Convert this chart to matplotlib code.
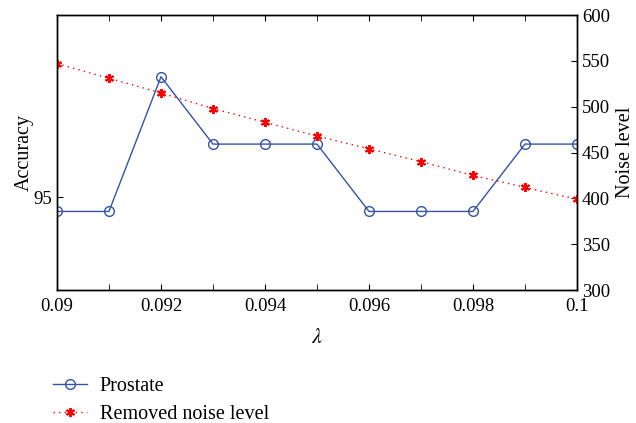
import matplotlib.pyplot as plt
from matplotlib.ticker import MultipleLocator

# data
lam = [0.090, 0.091, 0.092, 0.093, 0.094, 0.095, 0.096, 0.097, 0.098, 0.099, 0.100]
accuracy = [94.95, 94.95, 95.43, 95.19, 95.19, 95.19, 94.95, 94.95, 94.95, 95.19, 95.19]
noise_level = [547, 531, 515, 498, 483, 468, 454, 440, 425, 412, 399]
xtick_vals = [0.090, 0.092, 0.094, 0.096, 0.098, 0.100]
xtick_labels = ['0.09', '0.092', '0.094', '0.096', '0.098', '0.1']

plt.rcParams['font.family'] = ['Liberation Serif', 'DejaVu Serif']
plt.rcParams['mathtext.fontset'] = 'stix'

fig = plt.figure(figsize=(6.36, 4.23), dpi=100)
ax = fig.add_axes([0.0896, 0.3144, 0.8176, 0.6501])

blue = '#3453a8'
l1, = ax.plot(lam, accuracy, color=blue, lw=1.0, marker='o', mfc='none',
              mec=blue, ms=7, mew=1.0, label='Prostate')
ax.set_xlim(0.09, 0.1)
ax.set_ylim(94.67, 95.65)
ax.set_yticks([95])
ax.set_yticklabels(['95'])
ax.set_xticks(xtick_vals)
ax.set_xticklabels(xtick_labels)
ax.xaxis.set_minor_locator(MultipleLocator(0.001))
ax.tick_params(axis='both', which='both', direction='in', labelsize=13.5,
               top=True, right=False, length=4)
ax.tick_params(axis='x', pad=6)
ax.set_ylabel('Accuracy', fontsize=14.5, labelpad=0)
ax.set_xlabel(r'$\lambda$', fontsize=16, labelpad=10)

ax2 = ax.twinx()
l2, = ax2.plot(lam, noise_level, color='red', ls=(0, (1, 3)), lw=1.0,
               marker=(6, 2, 0), ms=6.5, mew=1.4, mec='red',
               label='Removed noise level')
ax2.set_ylim(300, 600)
ax2.yaxis.set_major_locator(MultipleLocator(50))
ax2.tick_params(axis='y', direction='in', labelsize=13.5, length=4)
ax2.set_ylabel('Noise level', fontsize=14.5, labelpad=4)

for a in (ax, ax2):
    for s in a.spines.values():
        s.set_linewidth(1.0)

fig.legend(handles=[l1, l2], loc='upper left', bbox_to_anchor=(0.071, 0.128),
           frameon=False, fontsize=14.5, handlelength=1.7, handletextpad=0.6,
           labelspacing=0.45, borderaxespad=0)

fig.savefig('out.png', dpi=100)
